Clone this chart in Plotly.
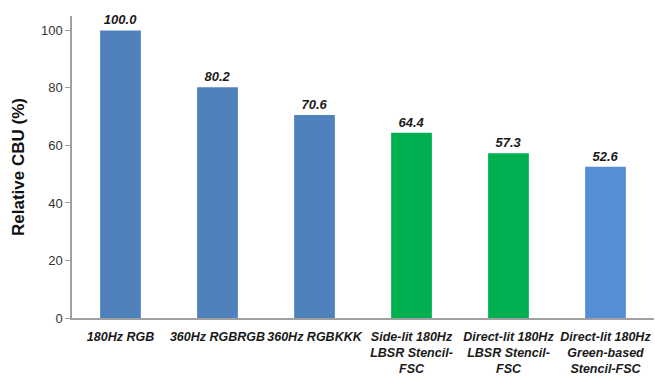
import plotly.graph_objects as go

# Relative color break-up for each driving scheme
categories = [
    "180Hz RGB",
    "360Hz RGBRGB",
    "360Hz RGBKKK",
    "Side-lit 180Hz<br>LBSR Stencil-<br>FSC",
    "Direct-lit 180Hz<br>LBSR Stencil-<br>FSC",
    "Direct-lit 180Hz<br>Green-based<br>Stencil-FSC",
]
values = [100.0, 80.2, 70.6, 64.4, 57.3, 52.6]
bar_colors = ["#4F81BD", "#4F81BD", "#4F81BD", "#00B050", "#00B050", "#558ED5"]
y_ticks = [0, 20, 40, 60, 80, 100]

font_family = "Liberation Sans, Arial, sans-serif"

fig = go.Figure(
    go.Bar(
        x=categories,
        y=values,
        marker=dict(color=bar_colors, line=dict(width=0)),
        width=0.42,
        text=[f"{v:.1f}" for v in values],
        textposition="outside",
        cliponaxis=False,
        textfont=dict(family=font_family, size=13, color="#1a1a1a",
                      weight="bold", style="italic"),
    )
)

fig.update_layout(
    width=655,
    height=385,
    margin=dict(l=72, r=1, t=16, b=67),
    plot_bgcolor="white",
    paper_bgcolor="white",
    showlegend=False,
    bargap=0.58,
)

fig.update_xaxes(
    showline=True,
    linecolor="#A0A0A0",
    linewidth=1.5,
    ticks="",
    showgrid=False,
    tickangle=0,
    ticklabelstandoff=6,
    tickfont=dict(family=font_family, size=12.5, color="#1a1a1a",
                  weight="bold", style="italic"),
)

fig.update_yaxes(
    range=[0, 105],
    tickvals=y_ticks,
    showline=True,
    linecolor="#A0A0A0",
    linewidth=1.5,
    ticks="outside",
    ticklen=5,
    tickcolor="#A0A0A0",
    showgrid=False,
    zeroline=False,
    tickfont=dict(family=font_family, size=13, color="#333333"),
    title=dict(
        text="Relative CBU (%)",
        font=dict(family=font_family, size=17, color="#111111", weight="bold"),
        standoff=12,
    ),
)

fig.write_html("out.html")
